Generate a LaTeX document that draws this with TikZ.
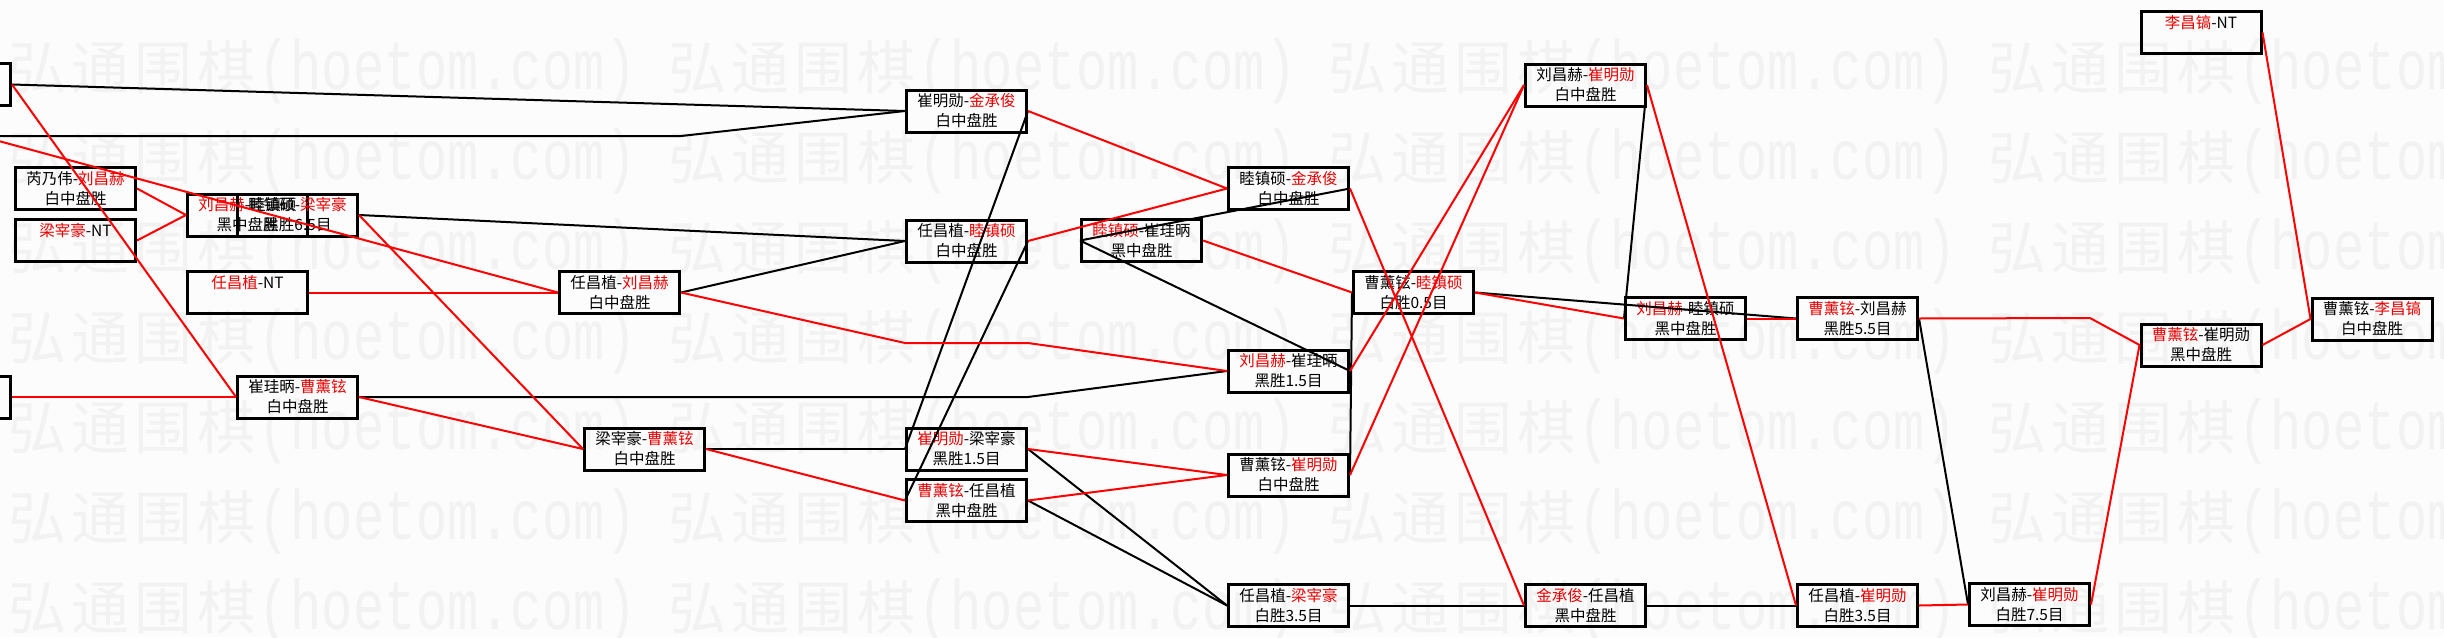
\documentclass[tikz,border=0pt]{standalone}
\usepackage{graphicx}
\usepackage{fontspec}
\setmainfont{Noto Sans CJK SC}
\newfontfamily\wmmono{Liberation Mono}
\definecolor{lred}{RGB}{255,0,0}
\definecolor{tred}{RGB}{235,0,0}
\definecolor{wmgray}{RGB}{242,242,242}
\definecolor{bgcol}{RGB}{252,252,252}
\newcommand\rd[1]{\textcolor{tred}{#1}}
\newcommand\wmC[1]{\makebox[31.5pt][c]{#1}}
\newcommand\wmA[1]{\makebox[15.75pt][c]{\scalebox{1}[1.35]{\wmmono\fontsize{26pt}{26pt}\selectfont #1}}}
\newcommand\wmtext{\wmC{弘}\wmC{通}\wmC{围}\wmC{棋}\wmA{(}\wmA{h}\wmA{o}\wmA{e}\wmA{t}\wmA{o}\wmA{m}\wmA{.}\wmA{c}\wmA{o}\wmA{m}\wmA{)}}
\tikzset{
  gbox/.style={draw=black, line width=1.5pt, minimum width=60pt, minimum height=21pt,
    inner sep=0pt, align=center, font=\fontsize{7.75pt}{10pt}\selectfont},
  wmnode/.style={anchor=base west, inner sep=0pt, text=wmgray, font=\fontsize{29pt}{29pt}\selectfont},
  blackline/.style={draw=black, line width=1pt, line join=round},
  redline/.style={draw=lred, line width=1pt, line join=round}
}
\begin{document}
\begin{tikzpicture}[x=0.5pt,y=-0.5pt]
\useasboundingbox (0,0) rectangle (2444,637);
\clip (0,0) rectangle (2444,637);
\fill[bgcol] (0,0) rectangle (2444,637);
% watermark
\foreach \r in {0,...,6}{
  \foreach \c in {0,...,3}{
    \node[wmnode] (wm-\r-\c) at ({6+660*\c},{89+90*\r}) {\wmtext};
  }
}
% game boxes
\node[gbox] (pA) at (-49.5,84.5) {};
\node[gbox] (pB) at (-49.5,397) {};
\node[gbox] (n1) at (75.5,188.5) {芮乃伟-\rd{刘昌赫}\\白中盘胜};
\node[gbox] (n2) at (75.5,240.5) {\rd{梁宰豪}-NT\\\phantom{白}};
\node[gbox] (n3) at (247.5,215) {\rd{刘昌赫}-睦镇硕\\黑中盘胜};
\node[gbox] (n4) at (297.5,215) {睦镇硕-\rd{梁宰豪}\\黑胜6.5目};
\node[gbox] (n5) at (247.5,292.5) {\rd{任昌植}-NT\\\phantom{白}};
\node[gbox] (n6) at (297.5,397) {崔珪昞-\rd{曹薰铉}\\白中盘胜};
\node[gbox] (n7) at (619.5,292.5) {任昌植-\rd{刘昌赫}\\白中盘胜};
\node[gbox] (n8) at (644.5,449) {梁宰豪-\rd{曹薰铉}\\白中盘胜};
\node[gbox] (n9) at (966.5,111) {崔明勋-\rd{金承俊}\\白中盘胜};
\node[gbox] (n10) at (966.5,241) {任昌植-\rd{睦镇硕}\\白中盘胜};
\node[gbox] (n11) at (966.5,449) {\rd{崔明勋}-梁宰豪\\黑胜1.5目};
\node[gbox] (n12) at (966.5,500.5) {\rd{曹薰铉}-任昌植\\黑中盘胜};
\node[gbox] (n13) at (1288.5,188.5) {睦镇硕-\rd{金承俊}\\白中盘胜};
\node[gbox] (n14) at (1141.5,240.5) {\rd{睦镇硕}-崔珪昞\\黑中盘胜};
\node[gbox] (n15) at (1288.5,371) {\rd{刘昌赫}-崔珪昞\\黑胜1.5目};
\node[gbox] (n16) at (1288.5,475) {曹薰铉-\rd{崔明勋}\\白中盘胜};
\node[gbox] (n17) at (1288.5,605.5) {任昌植-\rd{梁宰豪}\\白胜3.5目};
\node[gbox] (n18) at (1413.5,292.5) {曹薰铉-\rd{睦镇硕}\\白胜0.5目};
\node[gbox] (n19) at (1585.5,85) {刘昌赫-\rd{崔明勋}\\白中盘胜};
\node[gbox] (n20) at (1685.5,318.5) {\rd{刘昌赫}-睦镇硕\\黑中盘胜};
\node[gbox] (n21) at (1585.5,605.5) {\rd{金承俊}-任昌植\\黑中盘胜};
\node[gbox] (n22) at (1857.5,318.5) {\rd{曹薰铉}-刘昌赫\\黑胜5.5目};
\node[gbox] (n23) at (1857.5,605.5) {任昌植-\rd{崔明勋}\\白胜3.5目};
\node[gbox] (n24) at (2029.5,604.5) {刘昌赫-\rd{崔明勋}\\白胜7.5目};
\node[gbox] (n25) at (2201,345) {\rd{曹薰铉}-崔明勋\\黑中盘胜};
\node[gbox] (n26) at (2201,32.5) {\rd{李昌镐}-NT\\\phantom{白}};
\node[gbox] (n27) at (2372,319) {曹薰铉-\rd{李昌镐}\\白中盘胜};
% helper coordinates
\coordinate (oA) at (-5,140);
\coordinate (oB) at (-5,136);
\coordinate (k1) at (681,136);
\coordinate (k2) at (905,343);
\coordinate (k3) at (1028,343);
\coordinate (k4) at (1028,397);
\coordinate (k5) at (2090,318);
% black connectors
\draw[blackline] (pA.east) -- (n9.west);
\draw[blackline] (oB) -- (k1) -- (n9.west);
\draw[blackline] (n4.east) -- (n10.west);
\draw[blackline] (n6.east) -- (k4) -- (n15.west);
\draw[blackline] (n7.east) -- (n10.west);
\draw[blackline] (n8.east) -- (n11.west);
\draw[blackline] (n9.east) -- (n11.west);
\draw[blackline] (n10.east) -- (n12.west);
\draw[blackline] (n11.east) -- (n17.west);
\draw[blackline] (n12.east) -- (n17.west);
\draw[blackline] (n14.west) -- (n13.east);
\draw[blackline] (n14.west) -- (n15.east);
\draw[blackline] (n16.east) -- (n18.west);
\draw[blackline] (n18.east) -- (n22.west);
\draw[blackline] (n17.east) -- (n21.west);
\draw[blackline] (n21.east) -- (n23.west);
\draw[blackline] (n19.east) -- (n20.west);
\draw[blackline] (n22.east) -- (n24.west);
% red connectors
\draw[redline] (oA) -- (n7.west);
\draw[redline] (pA.east) -- (n6.west);
\draw[redline] (n1.east) -- (n3.west);
\draw[redline] (n2.east) -- (n3.west);
\draw[redline] (pB.east) -- (n6.west);
\draw[redline] (n5.east) -- (n7.west);
\draw[redline] (n4.east) -- (n8.west);
\draw[redline] (n6.east) -- (n8.west);
\draw[redline] (n7.east) -- (k2) -- (k3) -- (n15.west);
\draw[redline] (n8.east) -- (n12.west);
\draw[redline] (n9.east) -- (n13.west);
\draw[redline] (n10.east) -- (n13.west);
\draw[redline] (n11.east) -- (n16.west);
\draw[redline] (n12.east) -- (n16.west);
\draw[redline] (n14.east) -- (n18.west);
\draw[redline] (n13.east) -- (n21.west);
\draw[redline] (n15.east) -- (n19.west);
\draw[redline] (n16.east) -- (n19.west);
\draw[redline] (n18.east) -- (n20.west);
\draw[redline] (n19.east) -- (n23.west);
\draw[redline] (n20.east) -- (n22.west);
\draw[redline] (n22.east) -- (k5) -- (n25.west);
\draw[redline] (n23.east) -- (n24.west);
\draw[redline] (n24.east) -- (n25.west);
\draw[redline] (n25.east) -- (n27.west);
\draw[redline] (n26.east) -- (n27.west);
\end{tikzpicture}
\end{document}
